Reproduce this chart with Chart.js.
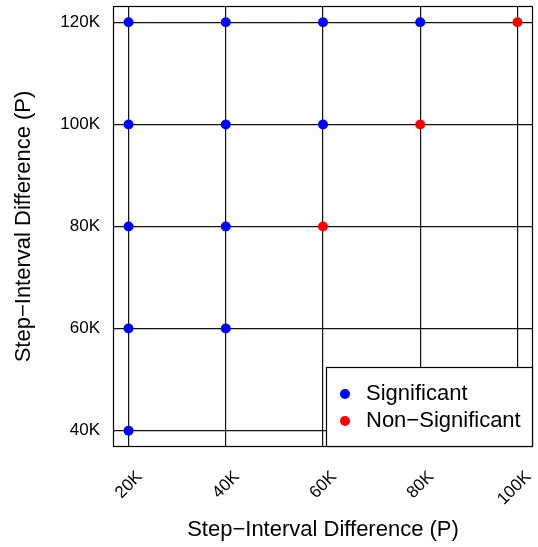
<!DOCTYPE html>
<html>
<head>
<meta charset="utf-8">
<script src="https://cdn.jsdelivr.net/npm/chart.js@4"></script>
<style>
  body { margin: 0; background: #fff; }
  #wrap { width: 538px; height: 547px; }
</style>
</head>
<body>
<div id="wrap"><canvas id="myChart"></canvas></div>
<script>
// tick values
var xTicks = [20000, 40000, 60000, 80000, 100000];
var yTicks = [40000, 60000, 80000, 100000, 120000];

// Significant points
var sigX = [20000, 20000, 20000, 20000, 20000, 40000, 40000, 40000, 40000, 60000, 60000, 80000];
var sigY = [40000, 60000, 80000, 100000, 120000, 60000, 80000, 100000, 120000, 100000, 120000, 120000];

// Non-Significant points
var nonX = [60000, 80000, 100000];
var nonY = [80000, 100000, 120000];

var axisTitle = 'Step\u2212Interval Difference (P)';
var fam = '"Liberation Sans", Arial, sans-serif';

function toPoints(xs, ys) {
  return xs.map((x, i) => ({x: x, y: ys[i]}));
}
function kLabel(v) {
  return (v / 1000) + 'K';
}

// frame around the plot + legend box in the lower right corner
const boxPlugin = {
  id: 'boxPlugin',
  beforeDatasetsDraw(chart) {
    var a = chart.chartArea, c = chart.ctx;
    c.save();
    c.strokeStyle = '#000';
    c.lineWidth = 1.2;
    c.strokeRect(Math.round(a.left) + 0.5, Math.round(a.top) + 0.5,
      Math.round(a.right - a.left) - 1, Math.round(a.bottom - a.top) - 1);
    c.restore();
  },
  afterDraw(chart) {
    var a = chart.chartArea, c = chart.ctx;
    var w = 207, h = 80;
    var bx = Math.round(a.right) - w, by = Math.round(a.bottom) - h;
    c.save();
    c.fillStyle = '#fff';
    c.fillRect(bx, by, w, h);
    c.strokeStyle = '#000';
    c.lineWidth = 1.2;
    c.strokeRect(bx + 0.5, by + 0.5, w - 1, h - 1);
    c.font = '22px ' + fam;
    c.textBaseline = 'middle';
    chart.data.datasets.forEach((ds, i) => {
      var cy = by + 27 + i * 27;
      c.fillStyle = ds.backgroundColor;
      c.beginPath();
      c.arc(bx + 19, cy, 5, 0, Math.PI * 2);
      c.fill();
      c.fillStyle = '#000';
      c.fillText(ds.label, bx + 40, cy);
    });
    c.restore();
  }
};

var ctx = document.getElementById('myChart').getContext('2d');
const myChart = new Chart(ctx, {
  type: 'scatter',
  data: {
    datasets: [{
      label: 'Significant',
      data: toPoints(sigX, sigY),
      backgroundColor: '#0000ff',
      borderWidth: 0,
      pointRadius: 5
    }, {
      label: 'Non\u2212Significant',
      data: toPoints(nonX, nonY),
      backgroundColor: '#ff0000',
      borderWidth: 0,
      pointRadius: 5
    }]
  },
  options: {
    responsive: true,
    maintainAspectRatio: false,
    animation: false,
    layout: { padding: { left: 0, right: 0, top: 6, bottom: 0 } },
    plugins: {
      legend: { display: false },
      tooltip: { enabled: false }
    },
    scales: {
      x: {
        type: 'linear',
        min: 16800,
        max: 103200,
        afterBuildTicks: s => { s.ticks = xTicks.map(v => ({value: v})); },
        afterFit: s => { s.height = 100; s.paddingLeft = 0; s.paddingRight = 0; },
        grid: { color: '#111', lineWidth: 1.2, drawTicks: false },
        border: { display: false },
        ticks: {
          callback: kLabel,
          autoSkip: false,
          minRotation: 45,
          maxRotation: 45,
          padding: 20,
          labelOffset: 11,
          color: '#000',
          font: { family: fam, size: 17 }
        },
        title: {
          display: true,
          text: axisTitle,
          color: '#000',
          font: { family: fam, size: 22 },
          padding: { top: 0, bottom: 4 }
        }
      },
      y: {
        type: 'linear',
        min: 36800,
        max: 123200,
        afterBuildTicks: s => { s.ticks = yTicks.map(v => ({value: v})); },
        afterFit: s => { s.width = 113; s.paddingTop = 0; s.paddingBottom = 0; },
        grid: { color: '#111', lineWidth: 1.2, drawTicks: false },
        border: { display: false },
        ticks: {
          callback: kLabel,
          padding: 13,
          color: '#000',
          font: { family: fam, size: 17 }
        },
        title: {
          display: true,
          text: axisTitle,
          color: '#000',
          font: { family: fam, size: 22 },
          padding: { top: 11, bottom: 0 }
        }
      }
    }
  },
  plugins: [boxPlugin]
});
</script>
</body>
</html>
